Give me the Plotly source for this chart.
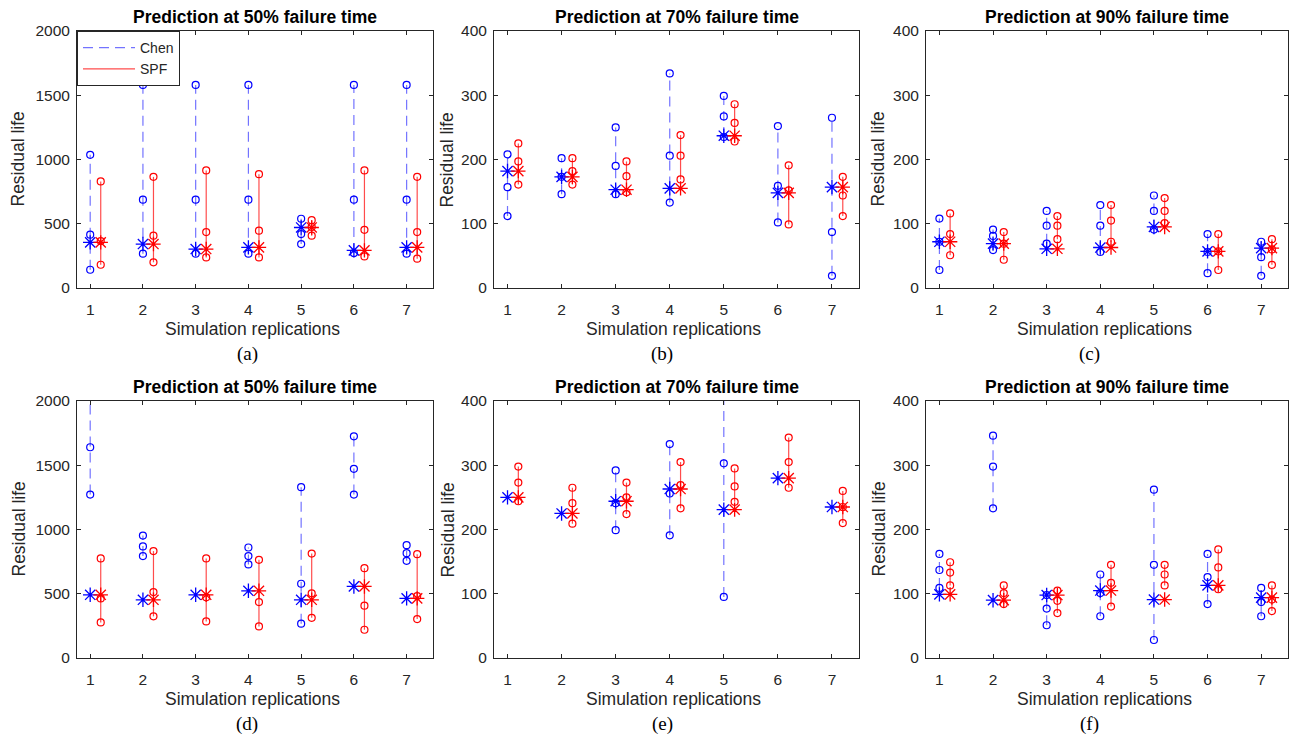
import plotly.graph_objects as go

W, H = 1296, 735

reps = [1, 2, 3, 4, 5, 6, 7]
tick_labels = ["1", "2", "3", "4", "5", "6", "7"]
spf_offset = 0.2

# Predicted residual life per replication: (lower, point, upper)
chen_a = [(142, 415, 1036), (267, 687, 1580), (267, 687, 1580), (267, 687, 1580),
          (342, 420, 539), (272, 687, 1580), (267, 687, 1580)]
spf_a = [(181, 365, 829), (200, 407, 865), (238, 435, 915), (238, 446, 886),
         (407, 475, 528), (246, 453, 915), (228, 435, 865)]
actual_a = [355, 342, 303, 316, 471, 293, 316]

chen_b = [(112, 157, 208), (146, 173, 202), (146, 190, 250), (133, 206, 334),
          (235, 267, 299), (102, 159, 252), (19, 87, 265)]
spf_b = [(161, 197, 225), (161, 182, 202), (149, 174, 197), (169, 206, 238),
         (228, 257, 286), (99, 152, 191), (112, 144, 173)]
actual_b = [182, 173, 153, 155, 237, 148, 157]

chen_c = [(28, 72, 108), (59, 81, 91), (69, 97, 120), (56, 97, 129),
          (91, 120, 144), (23, 56, 84), (19, 48, 72)]
spf_c = [(51, 84, 116), (44, 69, 87), (76, 97, 112), (72, 105, 129),
         (101, 120, 140), (28, 57, 84), (36, 60, 76)]
actual_c = [72, 69, 61, 63, 95, 57, 62]

chen_d = [(1272, 1640, 2150), (793, 868, 953), (2200, 2500, 2900), (728, 793, 860),
          (267, 578, 1329), (1272, 1472, 1725), (756, 816, 878)]
spf_d = [(277, 464, 775), (324, 513, 832), (285, 472, 775), (246, 435, 764),
         (313, 503, 813), (220, 407, 699), (303, 482, 808)]
actual_d = [492, 453, 492, 523, 453, 557, 464]

chen_e = [(420, 450, 500), (420, 450, 500), (199, 241, 292), (191, 256, 333),
          (95, 303, 430), (420, 450, 500), (420, 450, 500)]
spf_e = [(244, 273, 298), (209, 241, 265), (224, 250, 273), (233, 269, 305),
         (243, 267, 295), (265, 305, 343), (210, 235, 260)]
actual_e = [250, 225, 244, 263, 231, 280, 235]

chen_f = [(109, 137, 162), (233, 298, 346), (51, 77, 98), (65, 101, 130),
          (28, 145, 262), (84, 126, 162), (65, 87, 109)]
spf_f = [(113, 133, 149), (84, 101, 113), (70, 89, 105), (80, 117, 145),
         (113, 130, 145), (107, 141, 169), (73, 91, 113)]
actual_f = [99, 90, 98, 105, 91, 113, 94]

panels = [
    ("Prediction at 50% failure time", chen_a, spf_a, actual_a, 2000, 500, "(a)"),
    ("Prediction at 70% failure time", chen_b, spf_b, actual_b, 400, 100, "(b)"),
    ("Prediction at 90% failure time", chen_c, spf_c, actual_c, 400, 100, "(c)"),
    ("Prediction at 50% failure time", chen_d, spf_d, actual_d, 2000, 500, "(d)"),
    ("Prediction at 70% failure time", chen_e, spf_e, actual_e, 400, 100, "(e)"),
    ("Prediction at 90% failure time", chen_f, spf_f, actual_f, 400, 100, "(f)"),
]

# Axes boxes in pixels: (left, right) per column, (top, bottom) per row
col_px = [(77, 433), (494, 859), (926, 1288)]
row_px = [(31, 288), (401, 658)]
ytitle_x = [18, 447, 878]
caption_x = [247, 662, 1089]

BLUE = "rgb(0,0,255)"
RED = "rgb(255,0,0)"
BLUE_LINE = "rgba(0,0,255,0.55)"
RED_LINE = "rgba(255,0,0,0.7)"
AX_COL = "#262626"
SANS = "Arial, 'Liberation Sans', sans-serif"
SERIF = "'Times New Roman', 'Liberation Serif', serif"


def px_x(x):
    return x / W


def px_y(y):
    return 1 - y / H


fig = go.Figure()
annotations = []

for k, (title, chen, spf, actual, ymax, ystep, cap) in enumerate(panels):
    r, c = divmod(k, 3)
    n = k + 1
    xa = "x" if n == 1 else f"x{n}"
    ya = "y" if n == 1 else f"y{n}"

    for series, xs_shift, line_col, mcol, dash, name in (
        (chen, 0.0, BLUE_LINE, BLUE, "10px,6px", "Chen"),
        (spf, spf_offset, RED_LINE, RED, "solid", "SPF"),
    ):
        lx, ly = [], []
        for rep, (lo, mid, hi) in zip(reps, series):
            lx += [rep + xs_shift, rep + xs_shift, None]
            ly += [lo, hi, None]
        fig.add_trace(go.Scatter(
            x=lx, y=ly, mode="lines", xaxis=xa, yaxis=ya,
            line=dict(color=line_col, width=1.2, dash=dash),
            name=name, legendgroup=name, showlegend=(k == 0), hoverinfo="skip"))
        cx, cy = [], []
        for rep, trip in zip(reps, series):
            for v in trip:
                cx.append(rep + xs_shift)
                cy.append(v)
        fig.add_trace(go.Scatter(
            x=cx, y=cy, mode="markers", xaxis=xa, yaxis=ya,
            marker=dict(symbol="circle-open", size=7, color=mcol, line=dict(width=1.2, color=mcol)),
            showlegend=False, legendgroup=name))
        fig.add_trace(go.Scatter(
            x=[rep + xs_shift for rep in reps], y=actual, mode="markers", xaxis=xa, yaxis=ya,
            marker=dict(symbol="asterisk-open", size=12, color=mcol, line=dict(width=1.3, color=mcol)),
            showlegend=False, legendgroup=name))

    left, right = col_px[c]
    top, bottom = row_px[r]
    axis_common = dict(
        showline=True, mirror="ticks", linecolor=AX_COL, linewidth=1,
        ticks="inside", ticklen=4, tickcolor=AX_COL, showgrid=False, zeroline=False,
        tickfont=dict(family=SANS, size=15.5, color=AX_COL), automargin=False,
    )
    fig.layout[f"xaxis{'' if n == 1 else n}"] = dict(
        domain=[px_x(left), px_x(right)], anchor=ya, range=[0.75, 7.5],
        tickvals=reps, ticktext=tick_labels, ticklabelstandoff=7, **axis_common)
    fig.layout[f"yaxis{'' if n == 1 else n}"] = dict(
        domain=[px_y(bottom), px_y(top)], anchor=xa, range=[0, ymax],
        tickvals=list(range(0, ymax + 1, ystep)), ticklabelstandoff=3, **axis_common)

    cx_mid = (left + right) / 2
    annotations.append(dict(
        text=f"<b>{title}</b>", x=px_x(cx_mid), y=px_y(top - 14), xref="paper", yref="paper",
        showarrow=False, font=dict(family=SANS, size=17.5, color="#000000"),
        xanchor="center", yanchor="middle"))
    annotations.append(dict(
        text="Residual life", x=px_x(ytitle_x[c]), y=px_y((top + bottom) / 2),
        xref="paper", yref="paper", showarrow=False, textangle=-90,
        font=dict(family=SANS, size=17.5, color=AX_COL), xanchor="center", yanchor="middle"))
    annotations.append(dict(
        text="Simulation replications", x=px_x(cx_mid - 3), y=px_y(bottom + 41),
        xref="paper", yref="paper", showarrow=False,
        font=dict(family=SANS, size=17.5, color=AX_COL), xanchor="center", yanchor="middle"))
    annotations.append(dict(
        text=cap, x=px_x(caption_x[c]), y=px_y(bottom + 66),
        xref="paper", yref="paper", showarrow=False,
        font=dict(family=SERIF, size=19, color="#000000"), xanchor="center", yanchor="middle"))

fig.update_layout(
    width=W, height=H, margin=dict(l=0, r=0, t=0, b=0, pad=0, autoexpand=False),
    paper_bgcolor="white", plot_bgcolor="white",
    annotations=annotations,
    showlegend=True,
    legend=dict(
        x=px_x(77), y=px_y(31), xanchor="left", yanchor="top",
        bgcolor="white", bordercolor=AX_COL, borderwidth=1,
        font=dict(family=SANS, size=14, color=AX_COL),
        tracegroupgap=0, itemwidth=52,
    ),
)

fig.write_html("out.html")
